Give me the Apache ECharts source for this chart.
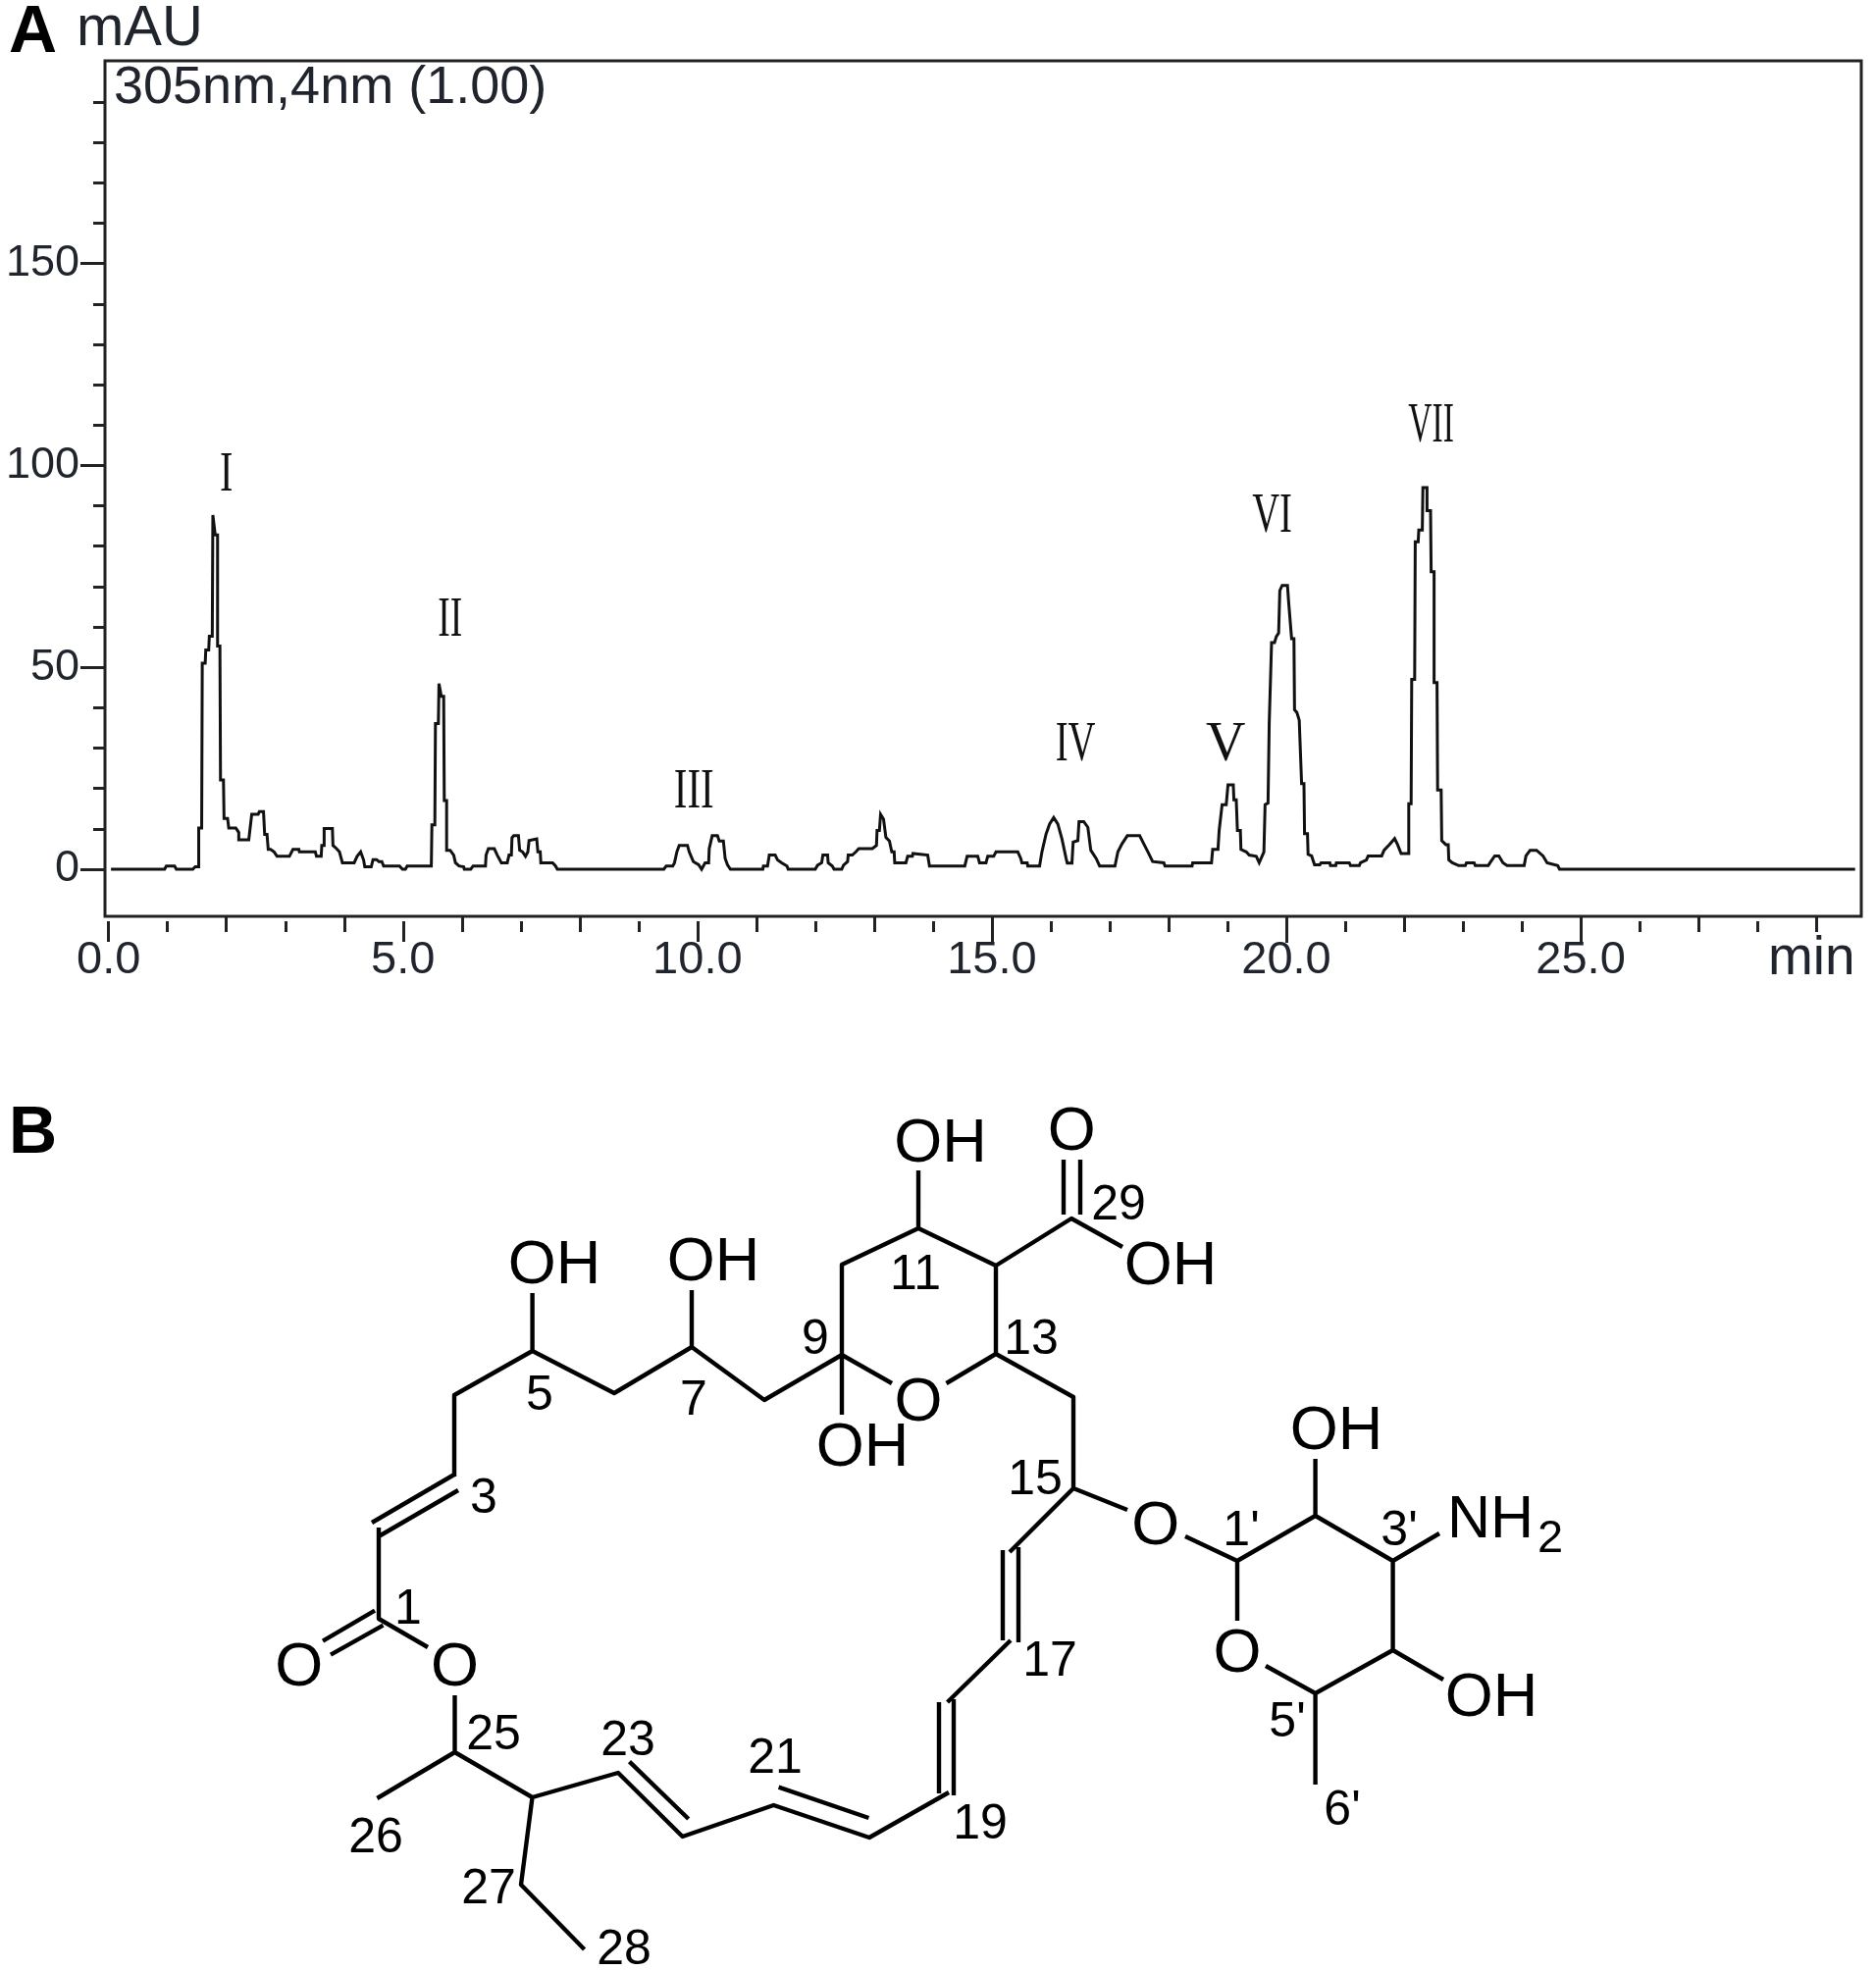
<!DOCTYPE html>
<html>
<head>
<meta charset="utf-8">
<style>html,body{margin:0;padding:0;background:#fff}#c{width:1912px;height:2008px}</style>
<script src="https://cdn.jsdelivr.net/npm/echarts@6/dist/echarts.min.js"></script>
</head>
<body>
<div id="c"></div>
<script>
// ---------- Panel A data ----------
const retentionTime = [0.04,0.95,0.98,1.12,1.15,1.43,1.47,1.53,1.53,1.58,1.59,1.64,1.65,1.70,1.71,1.76,1.77,1.80,1.81,1.85,1.85,1.89,1.90,1.95,1.96,2.02,2.04,2.16,2.21,2.21,2.38,2.43,2.54,2.56,2.63,2.65,2.69,2.71,2.75,2.81,2.86,3.07,3.13,3.23,3.24,3.51,3.53,3.61,3.62,3.66,3.66,3.80,3.81,3.87,3.92,3.97,4.17,4.22,4.28,4.33,4.35,4.46,4.49,4.55,4.59,4.64,4.67,4.94,4.99,5.04,5.07,5.48,5.49,5.54,5.55,5.60,5.61,5.64,5.65,5.69,5.70,5.74,5.74,5.80,5.86,5.89,5.95,6.03,6.04,6.15,6.19,6.40,6.41,6.45,6.55,6.60,6.67,6.77,6.80,6.84,6.85,6.88,6.96,6.98,7.03,7.08,7.12,7.14,7.17,7.27,7.29,7.33,7.34,7.54,7.59,7.62,9.43,9.47,9.58,9.61,9.65,9.69,9.83,9.86,9.93,10.02,10.07,10.13,10.19,10.20,10.25,10.34,10.37,10.44,10.47,10.51,10.56,11.11,11.12,11.19,11.22,11.32,11.36,11.43,11.52,11.54,12.00,12.04,12.11,12.13,12.21,12.22,12.29,12.32,12.45,12.48,12.55,12.56,12.63,12.69,12.74,12.97,13.04,13.05,13.09,13.11,13.14,13.16,13.20,13.26,13.30,13.34,13.35,13.54,13.57,13.65,13.66,13.69,13.91,13.94,14.54,14.58,14.76,14.79,14.90,14.93,15.03,15.07,15.44,15.49,15.51,15.60,15.61,15.81,15.85,15.92,15.98,16.05,16.12,16.19,16.26,16.28,16.36,16.38,16.46,16.48,16.56,16.63,16.68,16.77,16.83,17.09,17.14,17.21,17.30,17.51,17.58,17.65,17.73,17.92,17.94,18.40,18.41,18.73,18.75,18.84,18.86,18.91,18.98,19.01,19.10,19.11,19.15,19.17,19.22,19.23,19.32,19.37,19.49,19.54,19.62,19.64,19.69,19.71,19.74,19.75,19.80,19.83,19.87,19.89,19.93,20.02,20.04,20.07,20.09,20.13,20.14,20.18,20.22,20.25,20.26,20.30,20.31,20.36,20.37,20.43,20.48,20.57,20.59,20.74,20.75,20.84,20.85,21.07,21.09,21.24,21.26,21.36,21.39,21.62,21.66,21.75,21.84,21.89,21.95,22.08,22.08,22.12,22.13,22.18,22.19,22.24,22.25,22.31,22.32,22.39,22.39,22.45,22.46,22.51,22.51,22.56,22.57,22.63,22.64,22.71,22.75,22.76,22.82,22.93,23.04,23.06,23.19,23.21,23.43,23.46,23.54,23.61,23.68,23.75,24.04,24.07,24.14,24.25,24.36,24.43,24.61,24.64,29.66];
const absorbance = [0,0,0.8,0.8,0,0,0.6,0.6,10.2,10.2,51,51,54.3,54.3,57.7,57.7,87.7,87.7,82.8,82.8,55.3,55.3,22.1,22.1,12.6,12.6,10.2,10.2,9.1,7.3,7.3,13.6,13.6,14.3,14.3,8.6,8.6,4.9,4.9,4.3,3.2,3.2,4.9,4.9,4.3,4.3,3.2,3.2,5.9,5.9,10.1,10.1,5.9,5.1,4.3,1.6,1.6,3.2,4.3,2.3,0.6,0.6,2.4,2.4,1.9,1.9,0.8,0.8,0,0,0.8,0.8,11,11,36.1,36.1,46,46,42.8,42.8,17,17,4.7,4.7,3.5,1.6,0.8,0.6,0,0,0.8,0.8,3.5,5.1,5.1,3.5,1.6,1.6,3.5,3.5,7.8,8.3,8.3,4.7,4.3,3.2,4.3,7.1,7.5,7.5,4.3,4.3,1.6,1.6,0.8,0,0,0.8,0.8,1.6,4.3,5.9,5.9,4.3,1.9,1.1,0,1.6,1.6,5.1,8.3,8.3,7,7,2.7,1.1,0,0,0.8,0.8,3.5,3.5,2.3,1.6,0.8,0,0,1,1.6,3.5,3.5,1.6,0.8,0,0,1,1.9,3.5,3.5,4.3,5.1,5.1,5.9,9.6,9.6,13.6,13.6,12.4,7.9,7,4.3,4.3,1.6,1.6,3.2,3.2,3.9,3.5,3.5,0.8,0.8,3.2,3.2,1.6,1.6,3.2,3.2,4.3,4.3,2.7,1.6,1.6,0.8,0.8,4.3,8.7,11.2,12.8,11.2,7.5,2.7,1.5,1.5,6.7,7.1,11.8,11.8,10.4,4.7,2.7,0.8,0.8,4.3,6.3,8.3,8.3,6.3,4.3,1.9,1.6,0.8,0.8,1.6,1.6,4.9,4.9,9.6,16,16,20.9,20.9,17.2,17.2,9.6,9.6,4.9,4.3,3.5,3.2,1.6,4.3,16,16.4,36.1,36.1,56.1,56.1,57.6,58.5,69,70.3,70.3,66.2,66.2,57.1,57.1,39.5,38.8,36.9,36.9,21.2,21.2,8.8,8.8,3.7,3.3,1.1,1.1,1.6,1.6,0.9,0.9,1.6,1.6,0.9,0.9,1.6,2.3,3.3,3.3,4.7,6.1,7.6,6.1,3.9,3.9,16.2,16.2,47,47,81.1,81.1,84,84,94.5,94.5,88.8,88.8,73.7,73.7,46.2,46.2,19.6,19.6,7.1,6.1,6.1,2.3,1.6,0.9,0.9,1.6,1.6,0.9,0.9,1.6,3.3,3.3,1.6,0.9,0.9,3.3,4.7,4.7,3.3,1.6,0.9,0,0];

const xMajorTicksOffset = [0,5,10];
const xMajorTicksFull = [15,20,25];
const xLabelValues = [0,5,10,15,20,25];
const xMidTicks = [2,4,6,8,11,13,18,22,27,29];
const xShortTicks = [1,3,7,9,12,14,16,17,19,21,23,24,26,28];
const yLabelValues = [0,50,100,150];
const yMinorTicks = [10,20,30,40,60,70,80,90,110,120,130,140,160,170,180,190];

const peakNames = ['I','II','III','IV','V','VI','VII'];
const peakLabelTime = [2.0,5.8,9.94,16.42,18.97,19.76,22.46];
const peakLabelLevel = [98.4,62.4,19.9,31.6,31.6,88.2,110.5];

// ---------- Panel B data (drawing units of the structure) ----------
const structureBonds = [
  [463,1505,463,1422,542.6,1377,626,1420,705,1373,779,1427,858,1381,909,1410],
  [542.6,1377,542.6,1318],
  [705,1373,705,1315],
  [858,1442,858,1289,936,1252,1015,1290,1015,1380,964.5,1410],
  [936,1252,936,1193],
  [1015,1290,1092,1242,1144,1271],
  [1084,1182,1084,1238],
  [1101,1182,1101,1238],
  [1015,1380,1094,1424,1094,1517,1149,1539],
  [1094,1517,1029,1582],
  [1022,1580,1022,1672],
  [1038,1577,1038,1674],
  [1030,1672,965.6,1735],
  [957,1735,957,1828],
  [972,1732,972,1830],
  [967,1827,886,1873,788.5,1840,695.6,1872,630,1807,542.5,1832,463.5,1786,463.5,1728],
  [793.6,1821.7,885.4,1853],
  [641.5,1795.7,701.7,1854],
  [463.5,1786,384.4,1833],
  [542.5,1832,531,1921,595.6,1987],
  [463,1503,379,1552],
  [467,1519,386,1566],
  [386,1557,386,1650,436,1679],
  [329,1672.7,382,1641.7],
  [337,1686.7,390.5,1656.7],
  [1208,1566,1261,1591,1340.6,1545,1419.6,1591,1419.6,1682,1340.6,1726,1290,1698],
  [1261,1591,1261,1652],
  [1340.6,1545,1340.6,1487],
  [1419.6,1591,1467,1563],
  [1419.6,1682,1471,1712],
  [1340.6,1726,1340.6,1819]
];
const atomText = ['OH','OH','OH','OH','O','O','OH','O','O','O','O','OH','OH'];
const atomX = [565,727,958.6,879,936,1092.3,1193,304.8,463.5,1177.7,1261,1362,1520];
const atomY = [1287,1284,1163,1473,1427,1151,1288,1697,1697,1553,1683,1456,1728];
const numberText = ['1','3','5','7','9','11','13','15','17','19','21','23','25','26','27','28','29',"1'","3'","5'","6'"];
const numberX = [416,493,550,707,831,933,1051,1055,1070,999,790,640,503,383,498,636,1140,1265,1426,1312,1368];
const numberY = [1637,1524,1419,1424,1362,1296,1362,1505,1690,1856,1789,1771,1765,1870,1922,1984,1225,1557,1557,1752,1842];
const aminoText = ['NH','2'];
const aminoX = [1519,1580];
const aminoY = [1546,1565];

// ---------- Build ----------
const ink = '#111';
const textInk = '#20242c';
const sansFont = '"Liberation Sans", Arial, sans-serif';
const trace = retentionTime.map((t,i)=>[t,absorbance[i]]);
const bondPath = [];
structureBonds.forEach(b=>{
  for(let i=0;i<b.length;i+=2) bondPath.push([b[i],b[i+1]]);
  bondPath.push(['-','-']);
});
const peakSquash = {I:0.72,II:0.67,III:0.73,IV:0.69,V:1,VI:0.69,VII:0.6};
const textBaselineNudge = 4;

function textSeries(xs,ys,texts,font,fill,xAxisIndex,yAxisIndex,squash){
  return {
    type:'custom', coordinateSystem:'cartesian2d', xAxisIndex, yAxisIndex, silent:true,
    clip:false, animation:false,
    data:xs.map((x,i)=>[x,ys[i]]),
    encode:{x:0,y:1},
    renderItem(params,api){
      const p=api.coord([api.value(0),api.value(1)]);
      const s=texts[params.dataIndex];
      return {type:'text',x:p[0],y:p[1]+textBaselineNudge,scaleX:squash?squash[s]:1,
        style:{text:s,font,fill,align:'center',verticalAlign:'middle'}};
    }
  };
}
const tickStyle={color:'#222',width:3};
const hiddenLabel={show:false};
const hiddenLine={show:false,onZero:false};
function xTickAxis(values,offset,length){
  return {type:'value',gridIndex:0,min:-0.062,max:29.765,position:'bottom',offset,
    axisLine:hiddenLine,splitLine:{show:false},axisLabel:hiddenLabel,
    axisTick:{show:true,customValues:values,length,lineStyle:tickStyle}};
}
const chart=echarts.init(document.getElementById('c'),null,{renderer:'canvas'});
chart.setOption({
  animation:false,
  backgroundColor:'#fff',
  grid:[
    {left:107,top:62,width:1790,height:872,show:true,borderWidth:3,borderColor:'#222',backgroundColor:'transparent'},
    {left:0,top:1100,width:1912,height:908,show:false}
  ],
  xAxis:[
    {type:'value',gridIndex:0,min:-0.062,max:29.765,position:'bottom',
      axisLine:hiddenLine,splitLine:{show:false},
      axisTick:{show:true,customValues:xMajorTicksFull,length:27,lineStyle:tickStyle},
      axisLabel:{show:true,customValues:xLabelValues,margin:22,formatter:v=>v.toFixed(1),
        fontFamily:sansFont,fontSize:47,color:textInk}},
    xTickAxis(xMajorTicksOffset,5,21),
    xTickAxis(xMidTicks,0,16),
    xTickAxis(xShortTicks,5,11),
    {type:'value',gridIndex:1,min:0,max:1912,show:false}
  ],
  yAxis:[
    {type:'value',gridIndex:0,min:-11.66,max:200.2,position:'left',
      axisLine:hiddenLine,splitLine:{show:false},
      axisTick:{show:true,customValues:yLabelValues,length:25,lineStyle:tickStyle},
      axisLabel:{show:true,customValues:yLabelValues,margin:26,
        fontFamily:sansFont,fontSize:45,color:textInk}},
    {type:'value',gridIndex:0,min:-11.66,max:200.2,position:'left',
      axisLine:hiddenLine,splitLine:{show:false},axisLabel:hiddenLabel,
      axisTick:{show:true,customValues:yMinorTicks,length:12,lineStyle:tickStyle}},
    {type:'value',gridIndex:1,min:1100,max:2008,inverse:true,show:false}
  ],
  series:[
    {type:'line',xAxisIndex:0,yAxisIndex:0,data:trace,showSymbol:false,symbol:'none',sampling:null,
      lineStyle:{color:ink,width:3,join:'miter'},silent:true,clip:false},
    textSeries(peakLabelTime,peakLabelLevel,peakNames,'56px "Liberation Serif", serif',ink,0,0,peakSquash),
    {type:'line',xAxisIndex:4,yAxisIndex:2,data:bondPath,showSymbol:false,symbol:'none',connectNulls:false,
      lineStyle:{color:'#000',width:4.4,join:'round'},silent:true,clip:false},
    textSeries(atomX,atomY,atomText,'63px '+sansFont,'#000',4,2),
    textSeries(numberX,numberY,numberText,'50px '+sansFont,'#000',4,2),
    textSeries([aminoX[0]],[aminoY[0]],[aminoText[0]],'61px '+sansFont,'#000',4,2),
    textSeries([aminoX[1]],[aminoY[1]],[aminoText[1]],'47px '+sansFont,'#000',4,2)
  ],
  graphic:{elements:[
    {type:'text',x:9,y:0,silent:true,style:{text:'A',font:'bold 68px '+sansFont,fill:'#000'}},
    {type:'text',x:9,y:1122,silent:true,style:{text:'B',font:'bold 68px '+sansFont,fill:'#000'}},
    {type:'text',x:78,y:1,silent:true,style:{text:'mAU',font:'58px '+sansFont,fill:textInk}},
    {type:'text',x:116,y:63,silent:true,style:{text:'305nm,4nm (1.00)',font:'54px '+sansFont,fill:textInk}},
    {type:'text',x:1802,y:950,silent:true,style:{text:'min',font:'55px '+sansFont,fill:textInk}}
  ]}
});
</script>
</body>
</html>
